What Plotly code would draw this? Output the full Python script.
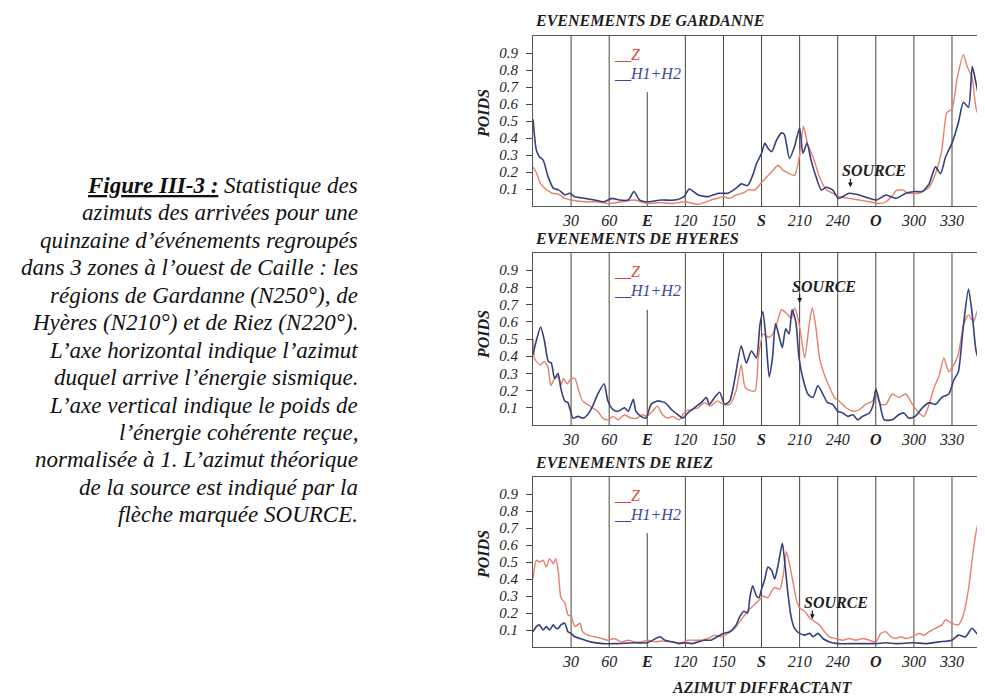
import plotly.graph_objects as go

# ---------------- data ----------------
AZ_TICKS = [30, 60, 90, 120, 150, 180, 210, 240, 270, 300, 330]
AZ_LABELS = ["30", "60", "<b>E</b>", "120", "150", "<b>S</b>", "210", "240", "<b>O</b>", "300", "330"]
GRID_AZ = [30, 60, 120, 150, 180, 210, 240, 270, 300, 330]
E_AZ = 90
E_TOP = 0.67
Y_TICKS = [0.1, 0.2, 0.3, 0.4, 0.5, 0.6, 0.7, 0.8, 0.9]
Y_LABELS = ["0.1", "0.2", "0.3", "0.4", "0.5", "0.6", "0.7", "0.8", "0.9"]

PANEL_TITLES = ["EVENEMENTS DE GARDANNE", "EVENEMENTS DE HYERES", "EVENEMENTS DE RIEZ"]
SOURCE_AZ = [250, 210, 220]
SOURCE_TIP = [0.11, 0.71, 0.165]

# Gardanne
gard_z_az = [0, 3, 6, 10, 15, 20, 25, 30, 40, 50, 60, 70, 80, 90, 100, 110, 120, 130, 140, 145,
             150, 155, 160, 165, 170, 175, 179, 184, 189, 193, 197, 202, 206, 210, 213, 216.5, 220.5, 225.7, 231, 236,
             241, 249, 257, 265, 272.7, 278, 283, 286, 291, 296, 304, 312, 317, 322, 326, 330, 334, 339, 342, 346,
             350, 356]
gard_z = [0.23, 0.19, 0.13, 0.10, 0.075, 0.07, 0.045, 0.035, 0.025, 0.025, 0.015, 0.025, 0.035, 0.015, 0.02, 0.015, 0.025, 0.01, 0.035, 0.045,
          0.055, 0.045, 0.065, 0.075, 0.095, 0.095, 0.13, 0.17, 0.21, 0.24, 0.21, 0.19, 0.18, 0.30, 0.47, 0.36, 0.29, 0.17, 0.095, 0.075,
          0.055, 0.045, 0.035, 0.025, 0.015, 0.025, 0.06, 0.09, 0.095, 0.075, 0.075, 0.11, 0.19, 0.33, 0.55, 0.57, 0.75, 0.89, 0.82, 0.75,
          0.55, 0.54]
gard_h_az = [0, 2.6, 5, 8, 12, 16, 20, 22, 25, 29, 33, 41, 48.5, 56, 62, 68, 75, 79.5, 84, 90.5,
             101, 111.5, 119, 123, 130, 138, 146, 153.5, 160, 164, 169, 173.5, 176, 180, 182.6, 185, 188, 192, 195.7, 198,
             202, 206, 210, 212.6, 215.8, 219, 223, 227, 231, 236, 240.6, 249, 257, 265, 270.6, 278, 286, 293.6, 300.6, 306.6,
             312, 317, 321, 325, 330, 335, 339, 343, 346, 349, 352, 356]
gard_h = [0.51, 0.33, 0.29, 0.27, 0.17, 0.105, 0.095, 0.085, 0.065, 0.075, 0.055, 0.045, 0.035, 0.025, 0.045, 0.035, 0.035, 0.085, 0.035, 0.025,
          0.035, 0.035, 0.055, 0.10, 0.065, 0.055, 0.075, 0.075, 0.105, 0.13, 0.12, 0.19, 0.25, 0.31, 0.37, 0.34, 0.32, 0.39, 0.43, 0.42,
          0.28, 0.35, 0.46, 0.31, 0.37, 0.27, 0.17, 0.095, 0.11, 0.095, 0.045, 0.075, 0.065, 0.045, 0.035, 0.065, 0.045, 0.075, 0.085, 0.085,
          0.13, 0.23, 0.19, 0.29, 0.37, 0.49, 0.61, 0.58, 0.82, 0.72, 0.62, 0.57]

# Hyeres
hye_z_az = [0, 1, 2.6, 6, 9, 12, 14, 17, 20, 22, 24, 27, 30, 33, 36, 39, 43, 47, 51, 55,
            59, 63, 67, 72, 77, 82, 86, 90, 94, 98, 102, 106, 110, 115, 120, 125, 130, 135, 140, 145,
            150, 155, 160, 164, 167, 171, 175, 177.4, 181.3, 185, 188, 191.7, 195.7, 199.6, 203.5, 206, 208.7, 211.3, 214, 218,
            220, 222.6, 225.7, 229.6, 233.5, 237.4, 241, 246.6, 252, 257, 262, 267.5, 270, 274, 278, 283, 288, 293.6, 298.8, 304,
            308, 312, 316, 320, 323.6, 327.5, 331.4, 335, 339, 343, 347, 351, 356]
hye_z = [0.50, 0.39, 0.37, 0.35, 0.37, 0.33, 0.23, 0.27, 0.28, 0.23, 0.27, 0.24, 0.27, 0.27, 0.20, 0.14, 0.12, 0.10, 0.08, 0.04,
         0.03, 0.05, 0.03, 0.06, 0.04, 0.04, 0.06, 0.05, 0.08, 0.11, 0.06, 0.04, 0.05, 0.03, 0.08, 0.09, 0.10, 0.13, 0.11, 0.14,
         0.12, 0.12, 0.20, 0.35, 0.22, 0.20, 0.20, 0.39, 0.53, 0.51, 0.52, 0.58, 0.67, 0.65, 0.62, 0.68, 0.62, 0.51, 0.39, 0.61,
         0.68, 0.58, 0.39, 0.29, 0.22, 0.16, 0.14, 0.10, 0.08, 0.09, 0.12, 0.14, 0.18, 0.12, 0.12, 0.18, 0.16, 0.18, 0.12, 0.07,
         0.05, 0.12, 0.22, 0.29, 0.39, 0.31, 0.35, 0.41, 0.58, 0.64, 0.60, 0.68, 0.66]
hye_h_az = [0, 2.6, 6, 9, 12, 14.4, 17, 19.7, 22, 25, 27.5, 31.5, 35.4, 39.4, 43, 47, 51, 56, 59, 63,
            67, 72, 75, 79, 81, 85, 89, 93, 98, 104, 109, 114, 118, 122, 127, 132.5, 136.5, 139, 143, 147,
            151, 155, 159, 164, 168, 172, 176, 178.7, 181, 183.4, 186, 188.6, 191, 194, 196.4, 199, 201.7, 204, 207, 209.5,
            212.6, 216.5, 220.5, 224.4, 228.3, 232, 236, 240, 244, 248, 252, 255.7, 259.6, 265, 268, 270, 272.7, 276.6, 283, 288,
            292, 296, 301, 306.6, 312, 317, 322, 327.5, 331.4, 335, 339, 343, 346, 349, 352, 356]
hye_h = [0.41, 0.49, 0.57, 0.49, 0.37, 0.36, 0.27, 0.30, 0.21, 0.14, 0.13, 0.04, 0.05, 0.04, 0.06, 0.11, 0.18, 0.24, 0.14, 0.09,
         0.08, 0.10, 0.08, 0.15, 0.08, 0.05, 0.04, 0.12, 0.14, 0.13, 0.09, 0.06, 0.04, 0.07, 0.10, 0.13, 0.16, 0.12, 0.16, 0.19,
         0.12, 0.14, 0.27, 0.46, 0.36, 0.43, 0.39, 0.58, 0.66, 0.51, 0.28, 0.39, 0.59, 0.51, 0.45, 0.56, 0.53, 0.67, 0.60, 0.39,
         0.27, 0.18, 0.16, 0.23, 0.18, 0.13, 0.12, 0.08, 0.07, 0.05, 0.06, 0.03, 0.05, 0.07, 0.12, 0.21, 0.14, 0.03, 0.03, 0.06,
         0.07, 0.04, 0.05, 0.10, 0.13, 0.12, 0.16, 0.18, 0.26, 0.31, 0.58, 0.79, 0.64, 0.43, 0.37, 0.36]

# Riez
riez_z_az = [0, 2.6, 5, 8, 10.5, 13, 16, 18, 20, 22, 25, 27.5, 30, 33, 37, 39, 43, 48.5, 54, 59,
             64, 69.5, 75, 80, 85, 90.5, 96, 101, 109, 117, 122, 127, 132.5, 138, 143, 148, 153.5, 159, 164, 169,
             174.5, 177.4, 181.3, 185, 188, 190.4, 194.4, 197, 199.6, 202, 204.8, 207.4, 210, 214, 218, 221.8, 225.7, 229.6, 233.5, 238.7,
             244, 249, 254.4, 259.6, 265, 270, 274, 278, 282, 285.7, 289.7, 293.6, 298.8, 304, 308, 312, 317, 322, 325, 330,
             335, 339, 343, 347, 351, 356]
riez_z = [0.40, 0.51, 0.50, 0.51, 0.47, 0.52, 0.49, 0.52, 0.44, 0.29, 0.26, 0.19, 0.18, 0.12, 0.14, 0.09, 0.07, 0.06, 0.05, 0.04,
          0.05, 0.03, 0.04, 0.03, 0.03, 0.04, 0.03, 0.035, 0.03, 0.025, 0.04, 0.04, 0.04, 0.05, 0.07, 0.06, 0.08, 0.11, 0.16, 0.21,
          0.25, 0.27, 0.30, 0.29, 0.33, 0.35, 0.34, 0.42, 0.56, 0.49, 0.38, 0.28, 0.23, 0.21, 0.17, 0.15, 0.13, 0.09, 0.06, 0.05,
          0.04, 0.05, 0.04, 0.05, 0.04, 0.03, 0.08, 0.09, 0.06, 0.05, 0.06, 0.05, 0.06, 0.08, 0.07, 0.09, 0.11, 0.13, 0.16, 0.14,
          0.13, 0.19, 0.34, 0.58, 0.74, 0.64]
riez_h_az = [0, 2.6, 5, 8, 10.5, 13, 16, 18, 20, 22, 25, 27.5, 30, 33, 37, 41, 45, 55, 65, 80,
             90, 100, 104, 110, 115, 120, 125, 130, 135, 140, 145, 150, 155, 160, 163, 166, 169, 171, 173, 176,
             178, 180, 182.6, 185, 188, 190.4, 193, 196.4, 198, 201, 203.5, 206, 210, 214, 218, 220.5, 224.4, 228.3, 233.5, 240,
             255, 270, 278, 285.7, 300, 309, 319.7, 330, 335, 340.6, 345.8, 351, 356]
riez_h = [0.09, 0.12, 0.13, 0.10, 0.12, 0.10, 0.13, 0.11, 0.11, 0.13, 0.14, 0.09, 0.08, 0.06, 0.05, 0.04, 0.03, 0.02, 0.02, 0.025,
          0.025, 0.06, 0.04, 0.03, 0.02, 0.025, 0.02, 0.03, 0.04, 0.04, 0.06, 0.08, 0.09, 0.13, 0.18, 0.21, 0.20, 0.30, 0.36, 0.30,
          0.29, 0.34, 0.40, 0.47, 0.45, 0.40, 0.48, 0.61, 0.52, 0.30, 0.17, 0.11, 0.08, 0.07, 0.08, 0.06, 0.08, 0.05, 0.03, 0.02,
          0.02, 0.02, 0.025, 0.02, 0.025, 0.02, 0.03, 0.04, 0.07, 0.06, 0.11, 0.07, 0.09]

SERIES = [
    (gard_z_az, gard_z, gard_h_az, gard_h),
    (hye_z_az, hye_z, hye_h_az, hye_h),
    (riez_z_az, riez_z, riez_h_az, riez_h),
]
for a, b, c, d in SERIES:
    assert len(a) == len(b) and len(c) == len(d), (len(a), len(b), len(c), len(d))

CAPTION = [
    "<b><u>Figure III-3 :</u></b> Statistique des",
    "azimuts des arrivées pour une",
    "quinzaine d’événements regroupés",
    "dans 3 zones à l’ouest de Caille : les",
    "régions de Gardanne (N250°), de",
    "Hyères (N210°) et de Riez (N220°).",
    "L’axe horizontal indique l’azimut",
    "duquel arrive l’énergie sismique.",
    "L’axe vertical indique le poids de",
    "l’énergie cohérente reçue,",
    "normalisée à 1. L’azimut théorique",
    "de la source est indiqué par la",
    "flèche marquée SOURCE.",
]

# ---------------- layout helpers ----------------
# The page body has an 8px default margin; the figure is sized so that it fills the window exactly.
OFF = 8
W, H = 985 - OFF, 697 - OFF


def fx(p):
    return (p - OFF) / W


def fy(p):
    return 1 - (p - OFF) / H


SERIF = "Liberation Serif"
RED = "#e5806c"
BLUE = "#36407a"
GRID = "#4a4536"
TXT = "#1e1e1e"

X_DOMAIN = [fx(533), 1.0]
Y_DOMAINS = [[fy(206), fy(36)], [fy(425), fy(253)], [fy(647), fy(477)]]
TITLE_Y = [20, 238, 462]
POIDS_Y = [114, 335, 555]

fig = go.Figure()
layout = dict(
    width=W, height=H, margin=dict(l=0, r=0, t=0, b=0),
    paper_bgcolor="white", plot_bgcolor="white", showlegend=False,
)
shapes = []
annotations = []

for i, (za, zv, ha, hv) in enumerate(SERIES):
    n = "" if i == 0 else str(i + 1)
    xref, yref = "x" + n, "y" + n
    fig.add_trace(go.Scatter(x=za, y=zv, mode="lines", line=dict(color=RED, width=1.4, shape="spline", smoothing=0.6),
                             xaxis=xref, yaxis=yref, hoverinfo="skip"))
    fig.add_trace(go.Scatter(x=ha, y=hv, mode="lines", line=dict(color=BLUE, width=1.6, shape="spline", smoothing=0.6),
                             xaxis=xref, yaxis=yref, hoverinfo="skip"))
    layout["xaxis" + n] = dict(
        domain=X_DOMAIN, range=[0, 356], anchor=yref,
        tickmode="array", tickvals=AZ_TICKS, ticktext=AZ_LABELS, ticks="",
        showline=True, mirror=True, linecolor="#555", linewidth=1,
        showgrid=False, zeroline=False,
        tickfont=dict(family=SERIF, size=16, style="italic", color=TXT),
    )
    layout["yaxis" + n] = dict(
        domain=Y_DOMAINS[i], range=[0, 1.0], anchor=xref,
        tickmode="array", tickvals=Y_TICKS, ticktext=Y_LABELS,
        ticks="outside", ticklen=6, tickcolor="#444", tickwidth=1, ticklabelstandoff=5,
        showline=True, mirror=False, linecolor="#555", linewidth=1,
        showgrid=False, zeroline=False,
        tickfont=dict(family=SERIF, size=15, style="italic", color=TXT),
    )
    for g in GRID_AZ:
        shapes.append(dict(type="line", xref=xref, yref=yref + " domain", x0=g, x1=g, y0=0, y1=1,
                           line=dict(color=GRID, width=1), layer="below"))
    shapes.append(dict(type="line", xref=xref, yref=yref, x0=E_AZ, x1=E_AZ, y0=0, y1=E_TOP,
                       line=dict(color=GRID, width=1), layer="below"))
    # panel title
    annotations.append(dict(text=PANEL_TITLES[i], xref="paper", yref="paper", x=fx(533), y=fy(TITLE_Y[i]),
                            xanchor="left", yanchor="middle", showarrow=False,
                            font=dict(family=SERIF, size=16, style="italic", weight="bold", color=TXT)))
    # y label
    annotations.append(dict(text="POIDS", xref="paper", yref="paper", x=fx(483), y=fy(POIDS_Y[i]),
                            textangle=-90, xanchor="center", yanchor="middle", showarrow=False,
                            font=dict(family=SERIF, size=16, style="italic", weight="bold", color=TXT)))
    # legend
    annotations.append(dict(text="__Z", xref=xref, yref=yref + " domain", x=62, y=0.89,
                            xanchor="left", yanchor="middle", showarrow=False,
                            font=dict(family=SERIF, size=16, style="italic", color="#d84a3c")))
    annotations.append(dict(text="__H1+H2", xref=xref, yref=yref + " domain", x=62, y=0.78,
                            xanchor="left", yanchor="middle", showarrow=False,
                            font=dict(family=SERIF, size=16, style="italic", color="#3a4898")))
    # source arrow + label
    annotations.append(dict(text="", xref=xref, yref=yref, x=SOURCE_AZ[i], y=SOURCE_TIP[i],
                            showarrow=True, arrowhead=2, arrowsize=0.8, arrowwidth=1.2, arrowcolor=TXT,
                            ax=0, ay=-10))
    annotations.append(dict(text="SOURCE", xref=xref, yref=yref, x=SOURCE_AZ[i], y=SOURCE_TIP[i],
                            xanchor="left", yanchor="bottom", xshift=-10, yshift=6, showarrow=False,
                            font=dict(family=SERIF, size=16, style="italic", weight="bold", color=TXT)))

annotations.append(dict(text="AZIMUT DIFFRACTANT", xref="paper", yref="paper", x=fx(762), y=fy(687),
                        xanchor="center", yanchor="middle", showarrow=False,
                        font=dict(family=SERIF, size=16, style="italic", weight="bold", color=TXT)))

for k, line in enumerate(CAPTION):
    annotations.append(dict(text=line, xref="paper", yref="paper", x=fx(360), y=fy(185 + 27.5 * k),
                            xanchor="right", yanchor="middle", showarrow=False,
                            font=dict(family=SERIF, size=23, style="italic", color="#111")))

layout["shapes"] = shapes
layout["annotations"] = annotations
fig.update_layout(**layout)
fig.write_html("out.html")
